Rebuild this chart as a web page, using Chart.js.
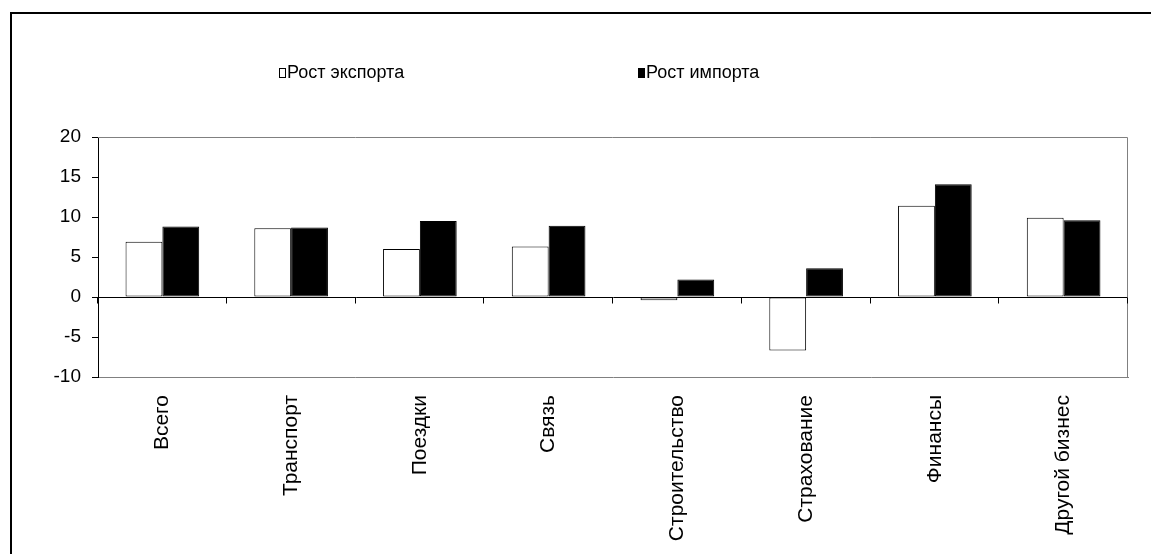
<!DOCTYPE html>
<html>
<head>
<meta charset="utf-8">
<script src="https://cdn.jsdelivr.net/npm/chart.js@4"></script>
<style>
  html, body { margin: 0; padding: 0; background: #fff; }
  #wrap { position: relative; width: 1151px; height: 554px; }
  #frame { position: absolute; left: 10px; top: 12px; right: -4px; bottom: -4px;
           border-left: 2px solid #000; border-top: 2px solid #000; pointer-events: none; }
</style>
</head>
<body>
<div id="wrap">
  <canvas id="c" width="1151" height="554"></canvas>
  <div id="frame"></div>
</div>
<script>
// Service categories
const categories = ['Всего', 'Транспорт', 'Поездки', 'Связь', 'Строительство', 'Страхование', 'Финансы', 'Другой бизнес'];
// Growth of services exports and imports, %
const exportGrowth = [6.9, 8.6, 6.0, 6.3, -0.4, -6.7, 11.4, 9.9];
const importGrowth = [8.8, 8.7, 9.5, 8.9, 2.2, 3.6, 14.1, 9.6];
// Value axis
const yMin = -10, yMax = 20, yStep = 5;

const FONT = "'Liberation Sans', Arial, sans-serif";

// Frame around the plot area and small tick marks hanging below the zero line
const plotDecor = {
  id: 'plotDecor',
  afterDatasetsDraw(chart) {
    const { ctx, chartArea: a, scales: { x, y } } = chart;
    ctx.save();
    ctx.strokeStyle = '#808080';
    ctx.lineWidth = 1;
    ctx.beginPath();
    ctx.moveTo(a.left, a.top + 0.5);
    ctx.lineTo(a.right - 0.5, a.top + 0.5);
    ctx.lineTo(a.right - 0.5, a.bottom);
    ctx.stroke();
    const y0 = Math.round(y.getPixelForValue(0)) + 0.5;
    ctx.strokeStyle = '#000';
    ctx.beginPath();
    const n = categories.length;
    const step = (x.getPixelForValue(n - 1) - x.getPixelForValue(0)) / (n - 1);
    for (let i = 0; i <= n; i++) {
      const px = Math.round(x.getPixelForValue(0) - step / 2 + i * step) - 0.5;
      ctx.moveTo(px, y0);
      ctx.lineTo(px, y0 + 6);
    }
    ctx.stroke();
    ctx.restore();
  }
};

// Legend drawn as two spaced entries above the plot
const spacedLegend = {
  id: 'spacedLegend',
  afterDraw(chart, args, opts) {
    const { ctx } = chart;
    ctx.save();
    ctx.font = opts.font;
    ctx.textBaseline = 'middle';
    chart.data.datasets.forEach((ds, i) => {
      const x = opts.positions[i];
      const yc = opts.y;
      ctx.fillStyle = ds.backgroundColor;
      ctx.fillRect(x, yc - 4.5, 6, 9);
      ctx.strokeStyle = '#000';
      ctx.lineWidth = 1;
      ctx.strokeRect(x + 0.5, yc - 4.5, 6, 9);
      ctx.fillStyle = '#000';
      ctx.fillText(ds.label, x + 8, yc);
    });
    ctx.restore();
  }
};

new Chart(document.getElementById('c'), {
  type: 'bar',
  data: {
    labels: categories,
    datasets: [
      { label: 'Рост экспорта', data: exportGrowth, backgroundColor: '#ffffff',
        borderColor: '#000000', borderWidth: 1, borderSkipped: false },
      { label: 'Рост импорта', data: importGrowth, backgroundColor: '#000000',
        borderColor: '#000000', borderWidth: 1, borderSkipped: false }
    ]
  },
  options: {
    responsive: false,
    animation: false,
    events: [],
    layout: { padding: { left: 0, top: 137, right: 23, bottom: 0 } },
    datasets: { bar: { barPercentage: 1.0, categoryPercentage: 0.572 } },
    plugins: {
      legend: { display: false },
      tooltip: { enabled: false },
      spacedLegend: { positions: [279, 638], y: 73, font: '18px ' + FONT }
    },
    scales: {
      x: {
        grid: { display: false },
        border: { display: true, color: '#808080', width: 1 },
        ticks: {
          color: '#000', font: { family: FONT, size: 21 },
          minRotation: 90, maxRotation: 90, autoSkip: false, padding: 10
        },
        afterFit(scale) { scale.height = 177; }
      },
      y: {
        min: yMin, max: yMax,
        grid: {
          drawOnChartArea: true,
          color: (c) => (c.tick && c.tick.value === 0 ? '#000' : 'rgba(0,0,0,0)'),
          tickColor: '#000', tickLength: 6, lineWidth: 1
        },
        border: { display: true, color: '#000', width: 1 },
        ticks: { stepSize: yStep, color: '#000', font: { family: FONT, size: 19 }, padding: 11 },
        afterFit(scale) { scale.width = 98; }
      }
    }
  },
  plugins: [plotDecor, spacedLegend]
});
</script>
</body>
</html>
